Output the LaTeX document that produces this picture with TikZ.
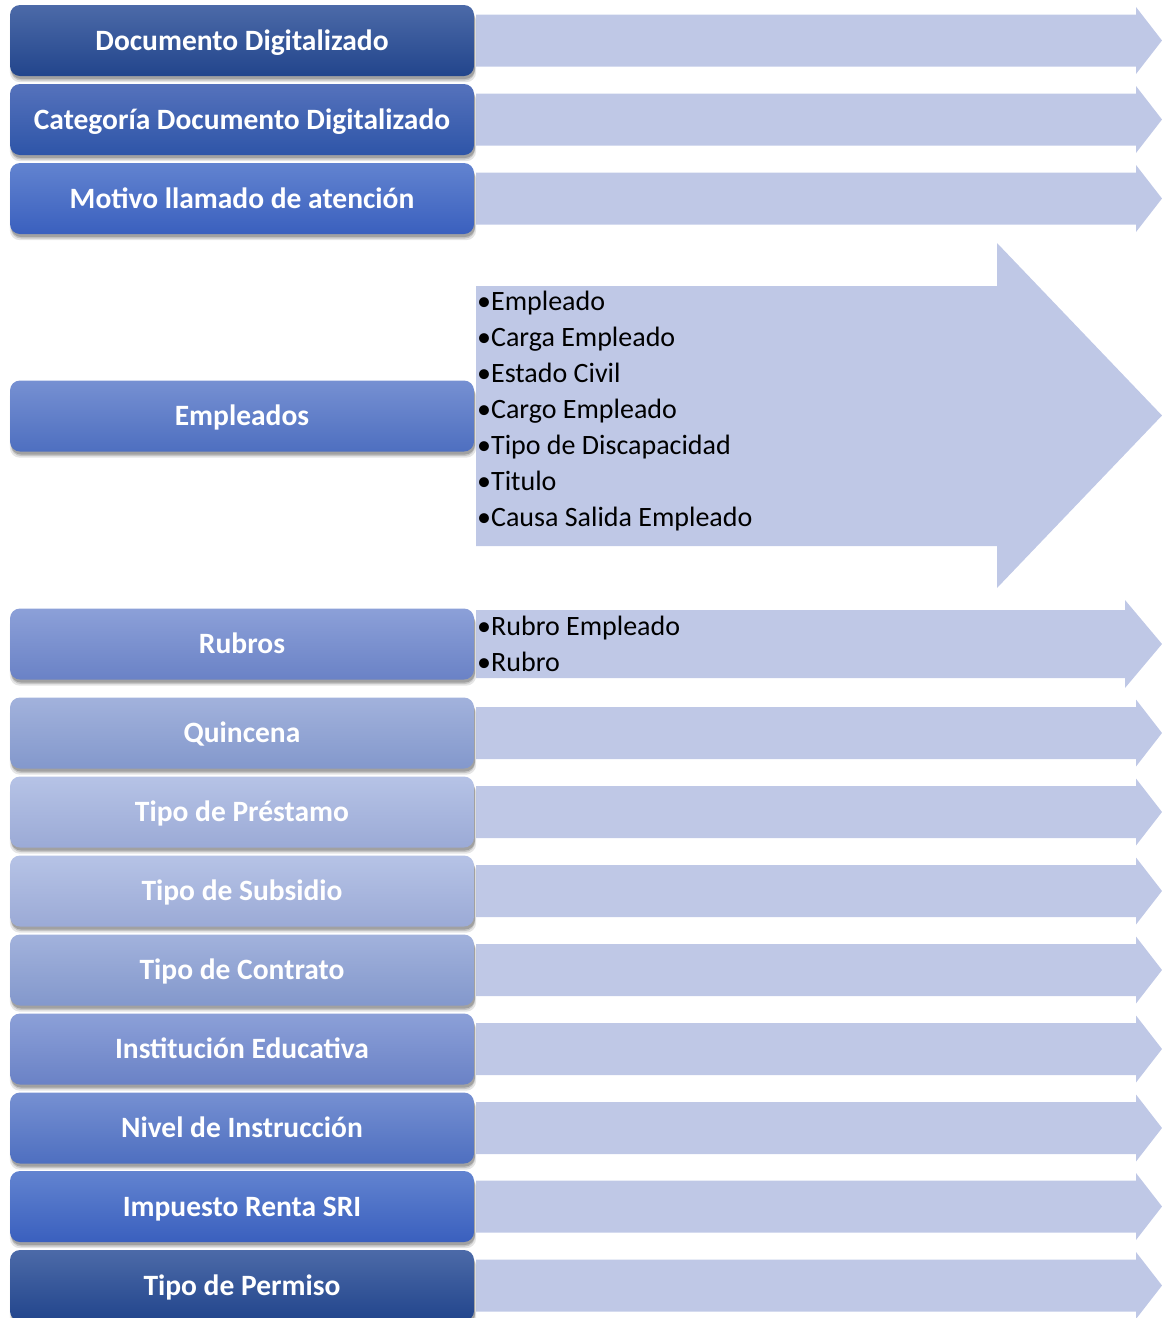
\documentclass[tikz,border=0pt]{standalone}
\usepackage{fontspec}
\setmainfont{Carlito}
\usetikzlibrary{shadows}
\definecolor{arrowfill}{RGB}{191,200,230}
\definecolor{cA1}{HTML}{4C6AA8}\definecolor{cA2}{HTML}{22458C}
\definecolor{cB1}{HTML}{5572BC}\definecolor{cB2}{HTML}{2E55A8}
\definecolor{cC1}{HTML}{6283D0}\definecolor{cC2}{HTML}{3A60BE}
\definecolor{cD1}{HTML}{7690D2}\definecolor{cD2}{HTML}{4E6FC0}
\definecolor{cE1}{HTML}{8CA0D8}\definecolor{cE2}{HTML}{6A82C6}
\definecolor{cF1}{HTML}{A2B2DC}\definecolor{cF2}{HTML}{8398CC}
\definecolor{cG1}{HTML}{B6C3E6}\definecolor{cG2}{HTML}{9BAAD6}
\tikzset{
  catbox/.style 2 args={rectangle, rounded corners=10pt, minimum width=464pt,
    minimum height=71pt, top color=#1, bottom color=#2, draw=none,
    text=white, font=\fontsize{29.5}{34}\selectfont\bfseries,
    text height=19pt, text depth=0pt, inner sep=0pt,
    general shadow={shadow xshift=1pt, shadow yshift=-6pt, opacity=0.10, fill=black, shadow scale=1.005},
    general shadow={shadow xshift=1pt, shadow yshift=-4.5pt, opacity=0.14, fill=black},
    general shadow={shadow xshift=1pt, shadow yshift=-3pt, opacity=0.18, fill=black}},
  listitem/.style={anchor=base west, inner sep=0pt, text=black,
    font=\fontsize{28}{36}\selectfont},
  arrowshape/.style={fill=arrowfill, draw=none}
}
\newcommand{\plainarrow}[1]{%
  \fill[arrowshape] (476,#1-26) -- (1136,#1-26) -- (1136,#1-33.5) -- (1162,#1)
    -- (1136,#1+33.5) -- (1136,#1+26) -- (476,#1+26) -- cycle;}
\begin{document}
\begin{tikzpicture}[x=1pt,y=-1pt]
\useasboundingbox (0,0) rectangle (1162,1318);
\clip (0,0) rectangle (1162,1318);
% arrows
\plainarrow{40.5}
\plainarrow{119.5}
\plainarrow{198.5}
\fill[arrowshape] (476,286) -- (997,286) -- (997,243) -- (1162,415.5)
  -- (997,588) -- (997,546) -- (476,546) -- cycle;
\fill[arrowshape] (476,610) -- (1125,610) -- (1125,600) -- (1162,644)
  -- (1125,688) -- (1125,678) -- (476,678) -- cycle;
\plainarrow{733}
\plainarrow{812}
\plainarrow{891}
\plainarrow{970}
\plainarrow{1049}
\plainarrow{1128}
\plainarrow{1206.5}
\plainarrow{1285.5}
% boxes
\node[catbox={cA1}{cA2}] (b1) at (242,40.5) {Documento Digitalizado};
\node[catbox={cB1}{cB2}] (b2) at (242,119.5) {Categoría Documento Digitalizado};
\node[catbox={cC1}{cC2}] (b3) at (242,198.5) {Motivo llamado de atención};
\node[catbox={cD1}{cD2}] (b4) at (242,416) {Empleados};
\node[catbox={cE1}{cE2}] (b5) at (242,644) {Rubros};
\node[catbox={cF1}{cF2}] (b6) at (242,733) {Quincena};
\node[catbox={cG1}{cG2}] (b7) at (242,812) {Tipo de Préstamo};
\node[catbox={cG1}{cG2}] (b8) at (242,891) {Tipo de Subsidio};
\node[catbox={cF1}{cF2}] (b9) at (242,970) {Tipo de Contrato};
\node[catbox={cE1}{cE2}] (b10) at (242,1049) {Institución Educativa};
\node[catbox={cD1}{cD2}] (b11) at (242,1128) {Nivel de Instrucción};
\node[catbox={cC1}{cC2}] (b12) at (242,1206.5) {Impuesto Renta SRI};
\node[catbox={cA1}{cA2}] (b13) at (242,1285.5) {Tipo de Permiso};
% lists
\node[listitem] (e1) at (477,310) {•Empleado};
\node[listitem] (e2) at (477,346) {•Carga Empleado};
\node[listitem] (e3) at (477,382) {•Estado Civil};
\node[listitem] (e4) at (477,418) {•Cargo Empleado};
\node[listitem] (e5) at (477,454) {•Tipo de Discapacidad};
\node[listitem] (e6) at (477,490) {•Titulo};
\node[listitem] (e7) at (477,526) {•Causa Salida Empleado};
\node[listitem] (r1) at (477,635) {•Rubro Empleado};
\node[listitem] (r2) at (477,671) {•Rubro};
\end{tikzpicture}
\end{document}
